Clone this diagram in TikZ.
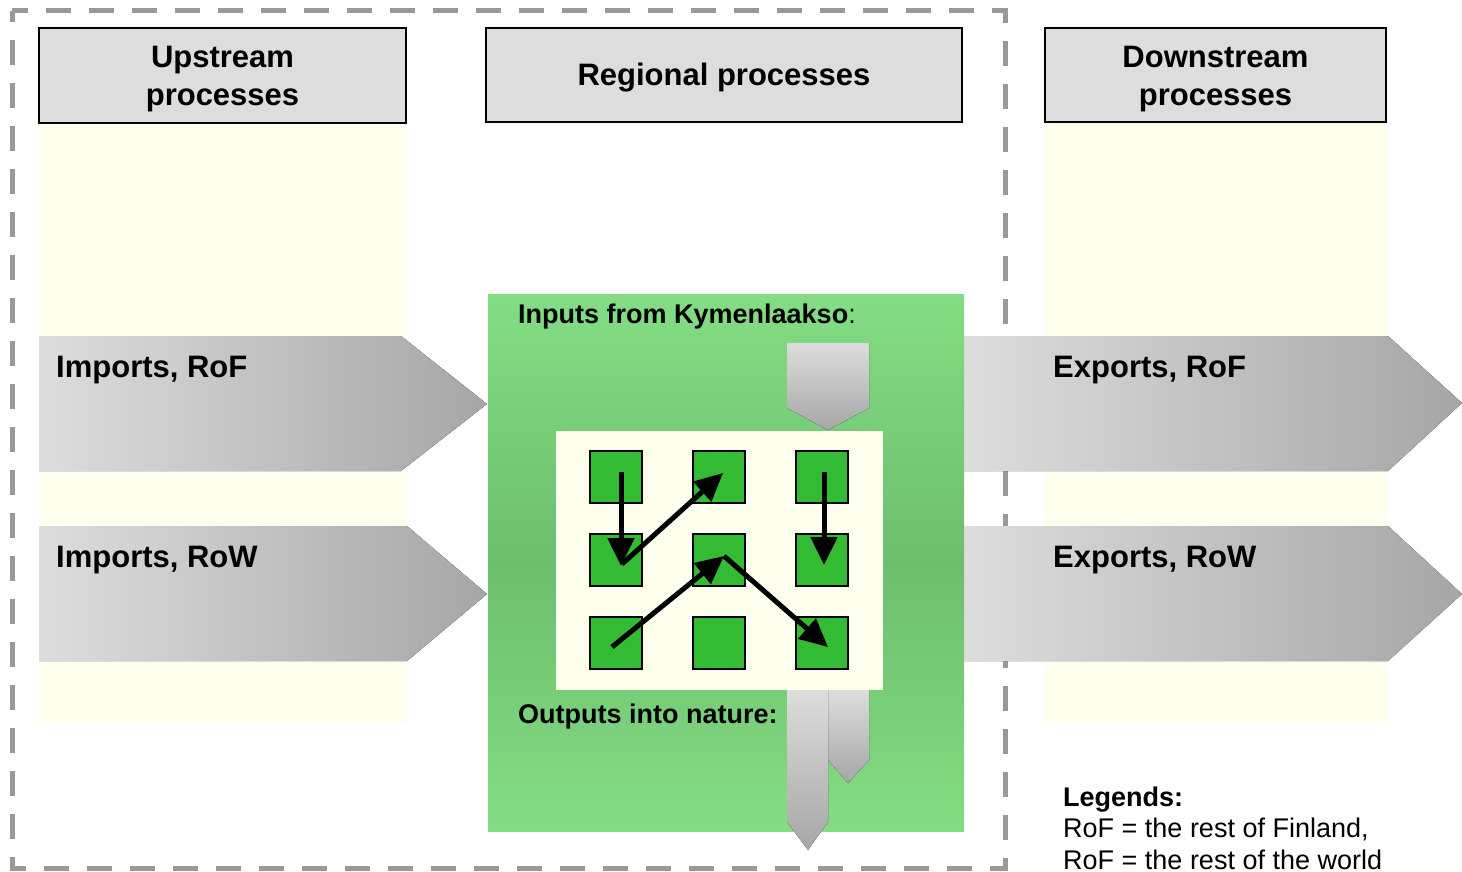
\documentclass[tikz,border=0pt]{standalone}
\usepackage{fontspec}
\setmainfont{Liberation Sans}
\usetikzlibrary{arrows.meta,calc}
\definecolor{hdrgray}{HTML}{DDDDDD}
\definecolor{ivorybg}{HTML}{FFFFEE}
\definecolor{greenA}{HTML}{84DD84}
\definecolor{greenB}{HTML}{6DBE6D}
\definecolor{sqgreen}{HTML}{33BB33}
\definecolor{bordergray}{HTML}{999999}
\definecolor{arrlight}{HTML}{DDDDDD}
\definecolor{arrdark}{HTML}{A6A6A6}
\begin{document}
\begin{tikzpicture}[x=1pt,y=-1pt,
  hdrbox/.style={draw=black, line width=1.2pt, fill=hdrgray, inner sep=0pt},
  bigtxt/.style={font=\bfseries\fontsize{31}{38}\selectfont, inner sep=0pt, align=center},
  midtxt/.style={font=\bfseries\fontsize{27}{31}\selectfont, inner sep=0pt, anchor=base west},
  legtxt/.style={font=\fontsize{27}{31}\selectfont, inner sep=0pt, anchor=base west},
  hflow/.style={left color=arrlight, right color=arrdark},
  vflow/.style={top color=arrlight, bottom color=arrdark},
  sqbox/.style={draw=black, line width=1.5pt, fill=sqgreen, minimum size=52pt, inner sep=0pt},
  flowarrow/.style={line width=5pt, -{Triangle[length=28pt,width=26pt]}}
]
\useasboundingbox (0,0) rectangle (1462,872);
% dashed regional border
\draw[bordergray, line width=5pt, dash pattern=on 25pt off 18pt, dash phase=14pt] (12,11) rectangle (1005,868);
% ivory columns
\fill[ivorybg] (39,123) rectangle (406,723);
\fill[ivorybg] (1045,122) rectangle (1386,723);
% headers
\node[hdrbox, minimum width=367pt, minimum height=95pt] (uphdr) at (222.5,75.5) {};
\node[hdrbox, minimum width=476pt, minimum height=94pt] (reghdr) at (724,75) {};
\node[hdrbox, minimum width=341pt, minimum height=94pt] (downhdr) at (1215.5,75) {};
\node[bigtxt] (uptxt) at (222.5,79) {Upstream\\processes};
\node[bigtxt, anchor=base] (regtxt) at (724,86) {Regional processes};
\node[bigtxt] (downtxt) at (1215.5,79) {Downstream\\processes};
% flow arrows
\fill[hflow] (39,336) -- (401,336) -- (487,404) -- (401,471) -- (39,471) -- cycle;
\fill[hflow] (39,526) -- (407,526) -- (487,594) -- (407,661) -- (39,661) -- cycle;
\fill[hflow] (963,336) -- (1388,336) -- (1462,403) -- (1388,471) -- (963,471) -- cycle;
\fill[hflow] (963,526) -- (1388,526) -- (1462,594) -- (1388,661) -- (963,661) -- cycle;
% green regional box
\fill[top color=greenA, bottom color=greenA, middle color=greenB] (488,294) rectangle (964,831);
% input arrow
\fill[vflow] (787,343) -- (869,343) -- (869,408) -- (828,430) -- (787,408) -- cycle;
% ivory inner box
\fill[ivorybg] (556,431) rectangle (883,690);
% output arrows
\fill[vflow] (828,690) -- (869,690) -- (869,760) -- (848,783) -- (828,760) -- cycle;
\fill[vflow] (787,690) -- (828,690) -- (828,822) -- (808,850) -- (787,822) -- cycle;
% process squares
\node[sqbox] (s11) at (616,477) {};
\node[sqbox] (s12) at (719,477) {};
\node[sqbox] (s13) at (822,477) {};
\node[sqbox] (s21) at (616,560) {};
\node[sqbox] (s22) at (719,560) {};
\node[sqbox] (s23) at (822,560) {};
\node[sqbox] (s31) at (616,643) {};
\node[sqbox] (s32) at (719,643) {};
\node[sqbox] (s33) at (822,643) {};
% internal flows
\draw[flowarrow] ($(s11.center)+(5,-5)$) -- ($(s21.center)+(5,6)$);
\draw[flowarrow] ($(s21.center)+(6,4)$) -- ($(s12.center)+(4,-4)$);
\draw[flowarrow] ($(s13.center)+(2,-5)$) -- ($(s23.center)+(2,5)$);
\draw[flowarrow] ($(s31.center)+(-4,4)$) -- ($(s22.center)+(5,-4)$);
\draw[flowarrow] ($(s22.center)+(5,-4)$) -- ($(s33.center)+(6,4)$);
% labels
\node[bigtxt, anchor=base west] (improf) at (56,377) {Imports, RoF};
\node[bigtxt, anchor=base west] (improw) at (56,567) {Imports, RoW};
\node[bigtxt, anchor=base west] (exprof) at (1053,377) {Exports, RoF};
\node[bigtxt, anchor=base west] (exprow) at (1053,567) {Exports, RoW};
\node[midtxt] (inlbl) at (518,323) {Inputs from Kymenlaakso\mdseries:};
\node[midtxt] (outlbl) at (518,723) {Outputs into nature:};
\node[midtxt] (leg0) at (1063,806) {Legends:};
\node[legtxt] (leg1) at (1063,837) {RoF = the rest of Finland,};
\node[legtxt] (leg2) at (1063,869) {RoF = the rest of the world};
\end{tikzpicture}
\end{document}
